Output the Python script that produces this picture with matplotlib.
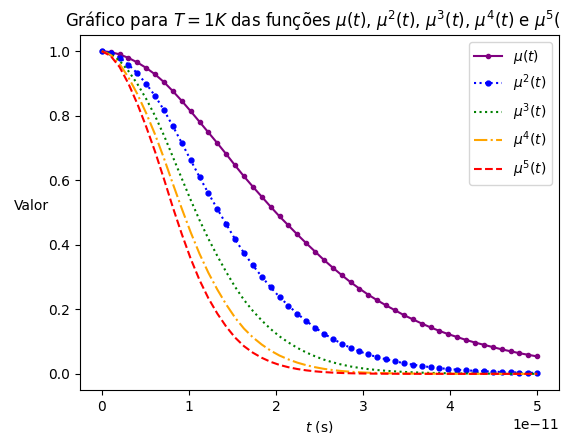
import numpy as np
import matplotlib
matplotlib.use("Agg")
import matplotlib.pyplot as plt

# Tempo (50 pontos entre 0 e 5e-11 s)
t = np.linspace(0, 5e-11, 50)

# mu(t)
mu = [1.000, 0.997, 0.990, 0.979, 0.965, 0.948, 0.928, 0.904, 0.876, 0.846,
      0.814, 0.781, 0.748, 0.715, 0.681, 0.646, 0.612, 0.580, 0.549, 0.518,
      0.488, 0.460, 0.432, 0.405, 0.379, 0.353, 0.329, 0.306, 0.284, 0.264,
      0.245, 0.228, 0.212, 0.197, 0.182, 0.169, 0.156, 0.144, 0.133, 0.123,
      0.114, 0.105, 0.097, 0.090, 0.083, 0.076, 0.070, 0.064, 0.059, 0.054]
mu = np.array(mu)

powers = [1, 2, 3, 4, 5]
labels = [r'$\mu(t)$', r'$\mu^2(t)$', r'$\mu^3(t)$', r'$\mu^4(t)$', r'$\mu^5(t)$']

fig = plt.figure(figsize=(5.61, 4.33), dpi=100)
ax = fig.add_axes([80 / 561, 43 / 433, 479 / 561, 355 / 433])

ax.plot(t, mu ** powers[0], color='purple', linestyle='-', marker='.', label=labels[0])
ax.plot(t, mu ** powers[1], color='blue', linestyle=':', marker='o', markersize=3.5, label=labels[1])
ax.plot(t, mu ** powers[2], color='green', linestyle=':', label=labels[2])
ax.plot(t, mu ** powers[3], color='orange', linestyle='-.', label=labels[3])
ax.plot(t, mu ** powers[4], color='red', linestyle='--', label=labels[4])

ax.set_title(r'Gráfico para $T = 1K$ das funções $\mu(t)$, $\mu^2(t)$, $\mu^3(t)$, $\mu^4(t)$ e $\mu^5(t)$')
ax.set_xlabel(r'$t$ (s)')
ax.set_ylabel('Valor', rotation=0, labelpad=12)
ax.legend(loc='upper right')

fig.savefig('out.png', dpi=100)
